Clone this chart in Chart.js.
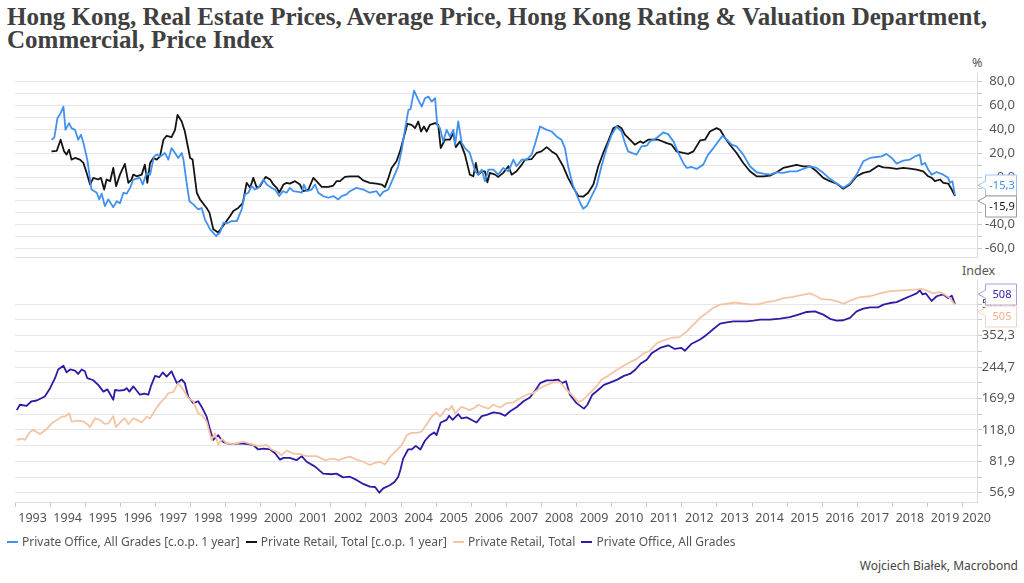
<!DOCTYPE html>
<html>
<head>
<meta charset="utf-8">
<script src="https://cdn.jsdelivr.net/npm/chart.js@4/dist/chart.umd.min.js"></script>
<style>
  body { margin: 0; width: 1024px; height: 583px; background: #fff; position: relative; overflow: hidden; font-family: "Noto Sans", sans-serif; color: #444; }
  #title { position: absolute; left: 7px; top: 5px; font: bold 25px "Liberation Serif", serif; line-height: 23px; color: #404040; white-space: nowrap; }
  #pct-box { position: absolute; left: 0; top: 60px; width: 1024px; height: 205px; }
  #idx-box { position: absolute; left: 0; top: 265px; width: 1024px; height: 270px; }
  .unit { position: absolute; font-size: 12.5px; color: #555; }
  #legend { position: absolute; left: 7px; top: 533px; font-size: 12px; color: #555; display: flex; white-space: nowrap; }
  #legend span.item { display: flex; align-items: center; margin-right: 6px; }
  #legend i { display: inline-block; width: 11px; height: 2px; margin-right: 4px; }
  #source { position: absolute; right: 6px; top: 557px; font-size: 12px; color: #444; }
</style>
</head>
<body>
<div id="title">Hong Kong, Real Estate Prices, Average Price, Hong Kong Rating &amp; Valuation Department,<br>Commercial, Price Index</div>
<div class="unit" style="left:972px; top:54px;">%</div>
<div class="unit" style="left:962px; top:262px;">Index</div>
<div id="pct-box"><canvas id="pctChart"></canvas></div>
<div id="idx-box"><canvas id="idxChart"></canvas></div>
<div id="legend"></div>
<div id="source">Wojciech Białek, Macrobond</div>
<script>
// Series names and colours
const seriesNames = [
  "Private Office, All Grades [c.o.p. 1 year]",
  "Private Retail, Total [c.o.p. 1 year]",
  "Private Retail, Total",
  "Private Office, All Grades",
];
const seriesColors = ["#4291ef", "#141414", "#f5c4a6", "#2f1aa6"];

// x axis (years)
const yearLabels = [1993, 1994, 1995, 1996, 1997, 1998, 1999, 2000, 2001, 2002, 2003, 2004, 2005, 2006,
  2007, 2008, 2009, 2010, 2011, 2012, 2013, 2014, 2015, 2016, 2017, 2018, 2019, 2020];

// top panel ticks (%)
const pctTicks = [-60, -50, -40, -30, -20, -10, 0, 10, 20, 30, 40, 50, 60, 70, 80];
// bottom panel ticks (Index, log)
const idxTicks = [56.9, 81.9, 118.0, 169.9, 244.7, 352.3, 507.3];

// Private Office, All Grades [c.o.p. 1 year]
const officeChgDates = [
  1994.04, 1994.12, 1994.21, 1994.30, 1994.38, 1994.44, 1994.54, 1994.61, 1994.71, 1994.80,
  1994.88, 1994.95, 1995.06, 1995.18, 1995.33, 1995.40, 1995.47, 1995.56, 1995.66, 1995.80,
  1995.90, 1995.99, 1996.09, 1996.18, 1996.28, 1996.37, 1996.56, 1996.64, 1996.75, 1996.85,
  1996.96, 1997.04, 1997.15, 1997.27, 1997.37, 1997.46, 1997.56, 1997.65, 1997.75, 1997.80,
  1997.89, 1997.97, 1998.08, 1998.22, 1998.32, 1998.41, 1998.56, 1998.73, 1998.84, 1998.94,
  1999.03, 1999.17, 1999.32, 1999.46, 1999.55, 1999.65, 1999.74, 1999.84, 1999.93, 2000.08,
  2000.17, 2000.31, 2000.41, 2000.53, 2000.63, 2000.74, 2000.83, 2000.93, 2001.07, 2001.17,
  2001.23, 2001.31, 2001.45, 2001.55, 2001.64, 2001.78, 2001.93, 2002.07, 2002.21, 2002.31,
  2002.45, 2002.54, 2002.73, 2002.92, 2003.11, 2003.30, 2003.40, 2003.49, 2003.64, 2003.78,
  2003.92, 2004.02, 2004.11, 2004.21, 2004.27, 2004.37, 2004.49, 2004.59, 2004.68, 2004.78,
  2004.87, 2004.97, 2005.03, 2005.11, 2005.20, 2005.30, 2005.39, 2005.49, 2005.54, 2005.63,
  2005.73, 2005.82, 2005.96, 2006.11, 2006.20, 2006.30, 2006.39, 2006.49, 2006.63, 2006.77,
  2006.91, 2007.06, 2007.20, 2007.29, 2007.44, 2007.58, 2007.72, 2007.81, 2007.96, 2008.15,
  2008.29, 2008.43, 2008.57, 2008.67, 2008.76, 2008.89, 2009.00, 2009.10, 2009.19, 2009.29,
  2009.43, 2009.57, 2009.71, 2009.86, 2010.00, 2010.14, 2010.28, 2010.38, 2010.47, 2010.57,
  2010.71, 2010.85, 2011.00, 2011.09, 2011.28, 2011.47, 2011.61, 2011.76, 2011.90, 2012.04,
  2012.14, 2012.28, 2012.42, 2012.61, 2012.75, 2012.90, 2013.04, 2013.16, 2013.28, 2013.42,
  2013.56, 2013.75, 2013.94, 2014.13, 2014.32, 2014.51, 2014.70, 2014.89, 2015.08, 2015.27,
  2015.46, 2015.65, 2015.84, 2016.03, 2016.22, 2016.41, 2016.60, 2016.79, 2016.98, 2017.17,
  2017.36, 2017.55, 2017.69, 2017.83, 2017.98, 2018.12, 2018.31, 2018.50, 2018.64, 2018.78,
  2018.83, 2018.93, 2019.02, 2019.12, 2019.26, 2019.45, 2019.59, 2019.64, 2019.71, 2019.78,
];
const officeChgValues = [
  31.3, 33, 49.4, 53.6, 59.1, 39.6, 45.2, 41, 39.6, 31.3,
  35.5, 28.5, 14.6, -10.5, -13.2, -18.8, -14, -24.4, -18.8, -25.3,
  -20.3, -22, -13.2, -14, -9.1, -2.1, -0.7, -6.3, 3.5, 2,
  17.3, 18.8, 17.3, 20.2, 14.6, 24.3, 20.2, 16, 20.2, 14.6,
  -4.9, -20.3, -23, -27.2, -26, -35.5, -43.9, -49.5, -46.6, -38.3,
  -39, -37, -37, -27.2, -14.6, -13.2, -7.7, -10.5, -9.1, -2.1,
  -6.3, -9.1, -10.5, -16, -11.9, -13.2, -9.1, -11.9, -12.5, -13.2,
  -6.3, -11.9, -10.5, -6.3, -13.2, -16, -17.4, -16, -18.8, -16,
  -14.6, -11.9, -9.1, -10.5, -13.2, -11.9, -16, -12.5, -10.5, -0.7,
  9, 23, 39.6, 56.4, 57, 72.5, 64.7, 59.1, 66.1, 67.5,
  63.3, 66.1, 43.8, 41, 29.9, 39.6, 34.1, 39.6, 26.9, 46.6,
  28.5, 24.3, 20.2, 4.8, 2, 6.2, -3.5, 6.2, 6.2, 2,
  7.6, 4.8, 14.6, 9, 14.6, 14.6, 18.8, 27.1, 42.4, 39.6,
  38.2, 34.1, 31.3, 24.3, 9, -6.3, -14.6, -21.6, -26.6, -24.4,
  -16, -7.7, 9, 24.3, 35.5, 42.4, 38.2, 28.5, 21.5, 20.2,
  18.8, 25.7, 26.3, 29.9, 32.7, 37.4, 36, 29.9, 20.2, 11.8,
  7.6, 8.4, 6.8, 10.4, 18.8, 24.3, 29.9, 34.6, 31.3, 27.1,
  25.7, 18.8, 9, 4, 2.9, 2, 4, 3.5, 4.8, 4.8,
  6.8, 9, 7.6, 3.5, -1.5, -5.5, -9.1, -5.5, 2, 13.2,
  16, 16.8, 17.3, 19.4, 16, 11.2, 13.7, 14.6, 17.3, 18.8,
  10.4, 11.8, 6.2, 2, 4.2, 2, -0.7, -4.9, -3.5, -15.3,
];

// Private Retail, Total [c.o.p. 1 year]
const retailChgDates = [
  1994.04, 1994.19, 1994.30, 1994.40, 1994.47, 1994.54, 1994.61, 1994.71, 1994.85, 1994.95,
  1995.04, 1995.14, 1995.23, 1995.37, 1995.45, 1995.54, 1995.61, 1995.71, 1995.80, 1995.88,
  1995.99, 1996.13, 1996.23, 1996.32, 1996.37, 1996.47, 1996.61, 1996.70, 1996.77, 1996.85,
  1996.94, 1997.04, 1997.13, 1997.23, 1997.32, 1997.46, 1997.56, 1997.63, 1997.75, 1997.84,
  1997.99, 1998.06, 1998.18, 1998.27, 1998.46, 1998.54, 1998.65, 1998.79, 1998.89, 1999.13,
  1999.22, 1999.36, 1999.49, 1999.60, 1999.70, 1999.79, 1999.89, 1999.98, 2000.14, 2000.27,
  2000.36, 2000.46, 2000.53, 2000.65, 2000.74, 2000.83, 2000.98, 2001.12, 2001.21, 2001.36,
  2001.50, 2001.59, 2001.74, 2001.93, 2002.07, 2002.16, 2002.26, 2002.40, 2002.54, 2002.78,
  2002.92, 2003.11, 2003.30, 2003.45, 2003.54, 2003.64, 2003.73, 2003.87, 2003.97, 2004.06,
  2004.18, 2004.30, 2004.40, 2004.49, 2004.57, 2004.65, 2004.73, 2004.82, 2004.97, 2005.06,
  2005.13, 2005.25, 2005.39, 2005.49, 2005.56, 2005.68, 2005.82, 2005.96, 2006.06, 2006.13,
  2006.20, 2006.30, 2006.39, 2006.46, 2006.53, 2006.68, 2006.77, 2006.91, 2007.06, 2007.15,
  2007.29, 2007.44, 2007.53, 2007.72, 2007.86, 2008.00, 2008.15, 2008.29, 2008.43, 2008.62,
  2008.76, 2008.91, 2009.05, 2009.19, 2009.33, 2009.48, 2009.62, 2009.76, 2009.90, 2010.05,
  2010.19, 2010.28, 2010.38, 2010.52, 2010.66, 2010.81, 2010.90, 2011.04, 2011.33, 2011.57,
  2011.71, 2011.85, 2012.04, 2012.18, 2012.33, 2012.52, 2012.66, 2012.80, 2012.99, 2013.09,
  2013.23, 2013.37, 2013.56, 2013.75, 2013.94, 2014.13, 2014.32, 2014.51, 2014.70, 2014.89,
  2015.08, 2015.27, 2015.46, 2015.65, 2015.84, 2016.03, 2016.22, 2016.41, 2016.60, 2016.79,
  2016.98, 2017.17, 2017.36, 2017.60, 2017.74, 2017.93, 2018.12, 2018.31, 2018.50, 2018.69,
  2018.88, 2019.02, 2019.12, 2019.21, 2019.36, 2019.45, 2019.59, 2019.69, 2019.78,
];
const retailChgValues = [
  21.5, 22, 31.3, 21.5, 18.8, 23, 14.6, 16, 14.6, 11.8,
  3.5, -6.3, -0.7, -2.1, -0.7, -10.5, -2.1, -3.5, 7.6, -7.7,
  2, 11, -4.9, -2.1, 2, 0.6, 2, 10.4, -4.9, 11.8,
  16, 14.6, 17.3, 31.3, 34.6, 33.5, 39.6, 52.2, 46.6, 38.2,
  16, 14.6, -13.2, -18.8, -26, -29.9, -43.9, -46.6, -42.5, -32.8,
  -28.6, -26, -22, -4.9, -9.1, -0.7, -9.1, -7.7, 0.1, -2.1,
  -6.3, -9.1, -13, -6.3, -4.9, -5.5, -3.5, -6.3, -11.9, -10.5,
  -0.7, -3.5, -8.2, -8.2, -7.2, -3.5, -3.5, 0.1, 0.6, 0.6,
  -2.8, -4.9, -5.5, -6.3, -8.5, -0.7, 7.6, 13.2, 21.5, 31.3,
  44.7, 43.8, 41, 46.6, 38.2, 42.4, 38.2, 43.8, 45.2, 43.8,
  24.3, 31.3, 31.3, 36.8, 25.1, 29.9, 18.8, 2, 0.6, 11.8,
  2, 4.8, 4.8, -4.4, 3.5, 2, 0.1, 3.5, 9, 2,
  4.8, 10.4, 14.6, 15.1, 20.2, 21.5, 25.1, 21.5, 18.8, 9,
  -0.7, -9.1, -16, -16.5, -13.2, -6.3, 9, 20.2, 29.9, 41,
  42.9, 41, 35.5, 31.3, 27.1, 29.9, 28.5, 31.3, 31.3, 28.5,
  27.1, 21.5, 20.2, 19.4, 21.5, 30.7, 31.3, 38.2, 41, 39.6,
  32.7, 27.1, 20.2, 11.8, 4.8, 0.6, 0.6, 1.2, 4, 7.6,
  9, 10.1, 9, 9, 4.8, -0.7, -3.5, -5.5, -9.9, -6.3,
  0.6, 3.5, 4.8, 9.5, 8.1, 7.6, 6.8, 7.6, 7, 6.2,
  4.8, 0.6, -0.7, -3.5, -2.1, -4.9, -5.5, -10.5, -15.9,
];

// Private Retail, Total (index)
const retailIdxDates = [
  1993.05, 1993.19, 1993.28, 1993.43, 1993.52, 1993.71, 1993.90, 1994.04, 1994.19, 1994.33,
  1994.42, 1994.55, 1994.61, 1994.80, 1994.95, 1995.06, 1995.14, 1995.28, 1995.42, 1995.54,
  1995.66, 1995.80, 1995.88, 1995.99, 1996.13, 1996.23, 1996.37, 1996.47, 1996.61, 1996.75,
  1996.85, 1996.99, 1997.13, 1997.27, 1997.37, 1997.51, 1997.65, 1997.80, 1997.94, 1998.08,
  1998.22, 1998.32, 1998.46, 1998.60, 1998.70, 1998.79, 1998.89, 1999.03, 1999.22, 1999.51,
  1999.79, 1999.98, 2000.17, 2000.31, 2000.46, 2000.60, 2000.74, 2000.93, 2001.12, 2001.31,
  2001.59, 2001.83, 2002.07, 2002.21, 2002.40, 2002.54, 2002.73, 2002.92, 2003.11, 2003.26,
  2003.40, 2003.54, 2003.68, 2003.87, 2004.02, 2004.16, 2004.30, 2004.44, 2004.58, 2004.73,
  2004.87, 2005.01, 2005.11, 2005.28, 2005.37, 2005.45, 2005.54, 2005.72, 2005.96, 2006.11,
  2006.20, 2006.35, 2006.49, 2006.63, 2006.82, 2007.01, 2007.20, 2007.39, 2007.58, 2007.77,
  2007.96, 2008.15, 2008.34, 2008.53, 2008.72, 2008.91, 2009.05, 2009.19, 2009.38, 2009.57,
  2009.71, 2009.90, 2010.09, 2010.28, 2010.52, 2010.71, 2010.90, 2011.09, 2011.28, 2011.50,
  2011.71, 2011.93, 2012.14, 2012.33, 2012.52, 2012.71, 2012.90, 2013.09, 2013.28, 2013.52,
  2013.75, 2013.94, 2014.18, 2014.42, 2014.66, 2014.89, 2015.13, 2015.37, 2015.65, 2015.84,
  2015.98, 2016.22, 2016.46, 2016.60, 2016.79, 2017.08, 2017.36, 2017.65, 2017.93, 2018.31,
  2018.69, 2018.83, 2019.02, 2019.16, 2019.35, 2019.49, 2019.64, 2019.78,
];
const retailIdxValues = [
  105, 106.5, 105, 115.5, 118, 112.5, 119, 127, 132.5, 137.5,
  137.5, 143, 130, 131.5, 130, 126, 122, 135, 132.5, 127,
  127, 138.5, 122, 128.5, 135, 126, 135, 132.5, 128.5, 137.5,
  135, 148.5, 161, 170.5, 181, 183, 203, 187.5, 170.5, 164.5,
  143, 140.5, 130, 105, 113.5, 99, 106.5, 101, 100, 103,
  99, 98, 99, 94, 91.5, 88, 93, 89.5, 89, 87,
  87, 83, 84.5, 83, 85.3, 86.5, 83.5, 81.5, 78.5, 80.5,
  81.5, 79, 86, 93, 99, 111, 114, 114, 115.5, 126,
  137.5, 144.5, 137.5, 151, 148.5, 156, 143, 154, 148.5, 153,
  158, 154, 151, 158, 153, 161, 162.5, 170.5, 177.5, 181,
  191.5, 199, 205, 205, 187.5, 174, 162.5, 167.5, 181, 195.5,
  211.5, 221, 233, 244.7, 259, 268.5, 285.5, 296, 322, 335,
  344, 346.5, 370, 401, 433.5, 458.5, 488, 505.5, 510.5, 518,
  510.5, 507.3, 507.3, 520, 527.5, 545, 552, 563, 575.5, 557,
  538.5, 535, 524, 509.5, 527.5, 552, 557, 575.5, 590.5, 597,
  603, 607, 590.5, 575.5, 584, 569, 545, 505,
];

// Private Office, All Grades (index)
const officeIdxDates = [
  1993.05, 1993.14, 1993.33, 1993.47, 1993.62, 1993.85, 1994.00, 1994.14, 1994.23, 1994.38,
  1994.47, 1994.57, 1994.71, 1994.80, 1994.90, 1994.99, 1995.06, 1995.23, 1995.37, 1995.52,
  1995.63, 1995.80, 1995.85, 1995.97, 1996.11, 1996.18, 1996.26, 1996.37, 1996.47, 1996.56,
  1996.68, 1996.80, 1996.87, 1996.99, 1997.11, 1997.21, 1997.32, 1997.46, 1997.61, 1997.75,
  1997.84, 1997.94, 1998.08, 1998.22, 1998.32, 1998.46, 1998.56, 1998.65, 1998.79, 1998.92,
  1999.03, 1999.17, 1999.41, 1999.65, 1999.79, 1999.93, 2000.08, 2000.27, 2000.41, 2000.55,
  2000.65, 2000.83, 2001.02, 2001.17, 2001.31, 2001.55, 2001.78, 2002.02, 2002.16, 2002.35,
  2002.54, 2002.73, 2002.92, 2003.11, 2003.26, 2003.38, 2003.49, 2003.68, 2003.82, 2003.92,
  2003.98, 2004.06, 2004.20, 2004.30, 2004.42, 2004.55, 2004.68, 2004.82, 2004.94, 2005.01,
  2005.13, 2005.30, 2005.37, 2005.47, 2005.63, 2005.72, 2005.87, 2005.96, 2006.15, 2006.30,
  2006.44, 2006.63, 2006.82, 2006.96, 2007.11, 2007.30, 2007.49, 2007.67, 2007.82, 2007.96,
  2008.15, 2008.34, 2008.48, 2008.58, 2008.70, 2008.81, 2009.00, 2009.21, 2009.31, 2009.45,
  2009.59, 2009.78, 2009.97, 2010.16, 2010.35, 2010.52, 2010.68, 2010.82, 2011.00, 2011.15,
  2011.38, 2011.61, 2011.80, 2011.99, 2012.09, 2012.28, 2012.52, 2012.71, 2012.90, 2013.09,
  2013.28, 2013.47, 2013.66, 2013.85, 2014.04, 2014.23, 2014.51, 2014.80, 2015.08, 2015.32,
  2015.56, 2015.79, 2016.03, 2016.22, 2016.41, 2016.60, 2016.79, 2016.98, 2017.17, 2017.36,
  2017.60, 2017.74, 2017.93, 2018.12, 2018.31, 2018.50, 2018.69, 2018.78, 2018.86, 2018.95,
  2019.12, 2019.26, 2019.45, 2019.59, 2019.69, 2019.78,
];
const officeIdxValues = [
  148.5, 158, 156, 164.5, 166, 174, 191.5, 215, 238, 248.5,
  230, 238, 235, 226, 238, 233, 215, 210, 199, 184,
  189, 167.5, 187.5, 186, 187.5, 191.5, 184, 195.5, 186, 177.5,
  180, 177.5, 195.5, 221, 217.5, 230, 219, 233, 203, 212,
  203, 172.5, 161, 164.5, 154, 137.5, 118, 105, 111, 103,
  101, 100, 101, 100, 99, 94, 95, 94, 90, 83.5,
  85.3, 85.3, 83, 87, 81.5, 77, 71, 70.5, 71, 68,
  68.5, 66, 63, 61, 60.8, 56.9, 59.8, 62, 64.6, 68.5,
  74, 84.5, 94, 94, 98, 94, 104, 111, 114.5, 111,
  128.5, 132.5, 139, 132.5, 141.6, 135, 136.5, 134, 128.5, 138.5,
  140.5, 144.5, 143, 139, 146.5, 154, 164.5, 172, 186, 203,
  209.5, 210, 211.5, 203, 207.5, 177.5, 161, 151, 158, 177.5,
  186, 199, 205, 211.5, 221, 226, 238, 254, 266.5, 288.5,
  305.5, 315, 302, 305.5, 296, 321, 337, 356.5, 381, 405.5,
  411.5, 416, 416, 416, 420, 425, 425, 430, 437, 450,
  464, 467.5, 450, 428.5, 420, 421.5, 433.5, 467.5, 482, 490,
  490, 505.5, 515, 520.5, 538.5, 557, 575.5, 597, 569, 575.5,
  527.5, 557, 569, 545, 561, 508,
];

const X_MIN = 1993;
const X_MAX = 2020.41;
const GRID = "#e6e6e6";
const TICK = "#c8c8c8";
const AXIS = "#dcdcdc";

Chart.defaults.font.family = "'Noto Sans', sans-serif";
Chart.defaults.font.size = 13;
Chart.defaults.color = "#555";

const toPoints = (dates, values) => dates.map((d, i) => ({ x: d, y: values[i] }));
const fmt = (v) => v.toFixed(1).replace(".", ",");

// value boxes at the right end of the lines
function makeCallouts(items) {
  return {
    id: "callouts",
    afterDraw(chart) {
      const ctx = chart.ctx;
      const yScale = chart.scales.y;
      const right = chart.chartArea.right;
      const x0 = Math.round(right) + 8.5;
      const w = 31;
      const h = 21;
      items.forEach((it) => {
        const pts = chart.data.datasets[it.dataset].data;
        const last = pts[pts.length - 1].y;
        const py = yScale.getPixelForValue(last);
        const cy = Math.round(py + it.dy) + 0.5;
        const ty = py + it.tipDy;
        const top = cy - h / 2;
        ctx.save();
        ctx.beginPath();
        ctx.moveTo(x0, top);
        ctx.lineTo(x0 + w, top);
        ctx.lineTo(x0 + w, top + h);
        ctx.lineTo(x0, top + h);
        ctx.lineTo(x0, Math.min(top + h, ty + 4));
        ctx.lineTo(right + 1, ty);
        ctx.lineTo(x0, Math.max(top, ty - 4));
        ctx.closePath();
        ctx.fillStyle = "#fff";
        ctx.fill();
        ctx.strokeStyle = it.border;
        ctx.lineWidth = 1;
        ctx.stroke();
        ctx.fillStyle = it.color;
        ctx.font = "11px 'Noto Sans', sans-serif";
        ctx.textAlign = "center";
        ctx.textBaseline = "middle";
        ctx.fillText(it.format(last), x0 + w / 2 + 1, cy);
        ctx.restore();
      });
    },
  };
}

const lineStyle = (i) => ({
  label: seriesNames[i],
  borderColor: seriesColors[i],
  backgroundColor: seriesColors[i],
  borderWidth: 1.8,
  pointRadius: 0,
  tension: 0,
  borderJoinStyle: "round",
});

// Top panel: % change
new Chart(document.getElementById("pctChart"), {
  type: "line",
  data: {
    datasets: [
      { ...lineStyle(0), data: toPoints(officeChgDates, officeChgValues) },
      { ...lineStyle(1), data: toPoints(retailChgDates, retailChgValues) },
    ],
  },
  options: {
    animation: false,
    responsive: true,
    maintainAspectRatio: false,
    layout: { padding: { top: 13, bottom: 7, left: 15, right: 9 } },
    plugins: { legend: { display: false }, tooltip: { enabled: false } },
    scales: {
      x: {
        type: "linear",
        min: X_MIN,
        max: X_MAX,
        afterFit: (s) => { s.height = 0; },
        ticks: { display: false },
        grid: { display: false, drawTicks: false },
        border: { display: true, color: AXIS },
      },
      y: {
        position: "right",
        min: -67.3,
        max: 87.3,
        afterBuildTicks: (s) => { s.ticks = pctTicks.map((v) => ({ value: v })); },
        afterFit: (s) => { s.width = 38; },
        ticks: {
          autoSkip: false,
          crossAlign: "far",
          padding: 0,
          callback: (v) => (v % 20 === 0 ? fmt(v) : ""),
        },
        grid: { color: GRID, tickLength: 5, tickColor: TICK },
        border: { display: true, color: AXIS },
      },
    },
  },
  plugins: [
    makeCallouts([
      { dataset: 0, dy: -10, tipDy: -10, color: "#3d8ded", border: "#9cc4f2", format: fmt },
      { dataset: 1, dy: 10, tipDy: 5, color: "#111", border: "#9a9a9a", format: fmt },
    ]),
  ],
});

// Bottom panel: index, log scale
const idxAllTicks = [];
idxTicks.forEach((v, i) => {
  idxAllTicks.push(v);
  if (i < idxTicks.length - 1) idxAllTicks.push(Math.sqrt(v * idxTicks[i + 1]));
});
const xTicks = [];
yearLabels.forEach((y) => {
  xTicks.push(y);
  xTicks.push(y === 2020 ? X_MAX - 0.01 : y + 0.5);
});

new Chart(document.getElementById("idxChart"), {
  type: "line",
  data: {
    datasets: [
      { ...lineStyle(2), data: toPoints(retailIdxDates, retailIdxValues) },
      { ...lineStyle(3), data: toPoints(officeIdxDates, officeIdxValues) },
    ],
  },
  options: {
    animation: false,
    responsive: true,
    maintainAspectRatio: false,
    layout: { padding: { top: 15, bottom: 0, left: 15, right: 9 } },
    plugins: { legend: { display: false }, tooltip: { enabled: false } },
    scales: {
      x: {
        type: "linear",
        min: X_MIN,
        max: X_MAX,
        afterBuildTicks: (s) => { s.ticks = xTicks.map((v) => ({ value: v })); },
        afterFit: (s) => { s.height = 33; },
        ticks: {
          autoSkip: false,
          maxRotation: 0,
          padding: 4,
          font: { size: 12.5 },
          callback: (v) => (Number.isInteger(v) ? "" : String(Math.floor(v))),
        },
        grid: {
          drawOnChartArea: false,
          tickLength: 5,
          tickColor: (c) => (Number.isInteger(c.tick.value) ? TICK : "rgba(0,0,0,0)"),
        },
        border: { display: true, color: AXIS },
      },
      y: {
        type: "logarithmic",
        position: "right",
        min: 51.07,
        max: 672.7,
        afterBuildTicks: (s) => { s.ticks = idxAllTicks.map((v) => ({ value: v })); },
        afterFit: (s) => { s.width = 38; },
        ticks: {
          autoSkip: false,
          crossAlign: "far",
          padding: 0,
          callback: (v) => (idxTicks.includes(v) ? fmt(v) : ""),
        },
        grid: { color: GRID, tickLength: 5, tickColor: TICK },
        border: { display: true, color: AXIS },
      },
    },
  },
  plugins: [
    makeCallouts([
      { dataset: 1, dy: -10, tipDy: -10, color: "#3520a8", border: "#a99ce0", format: (v) => String(Math.round(v)) },
      { dataset: 0, dy: 11, tipDy: 7, color: "#f2b089", border: "#f6d3bd", format: (v) => String(Math.round(v)) },
    ]),
  ],
});

// Legend
const legend = document.getElementById("legend");
seriesNames.forEach((name, i) => {
  const item = document.createElement("span");
  item.className = "item";
  const mark = document.createElement("i");
  mark.style.background = seriesColors[i];
  item.appendChild(mark);
  item.appendChild(document.createTextNode(name));
  legend.appendChild(item);
});
</script>
</body>
</html>
